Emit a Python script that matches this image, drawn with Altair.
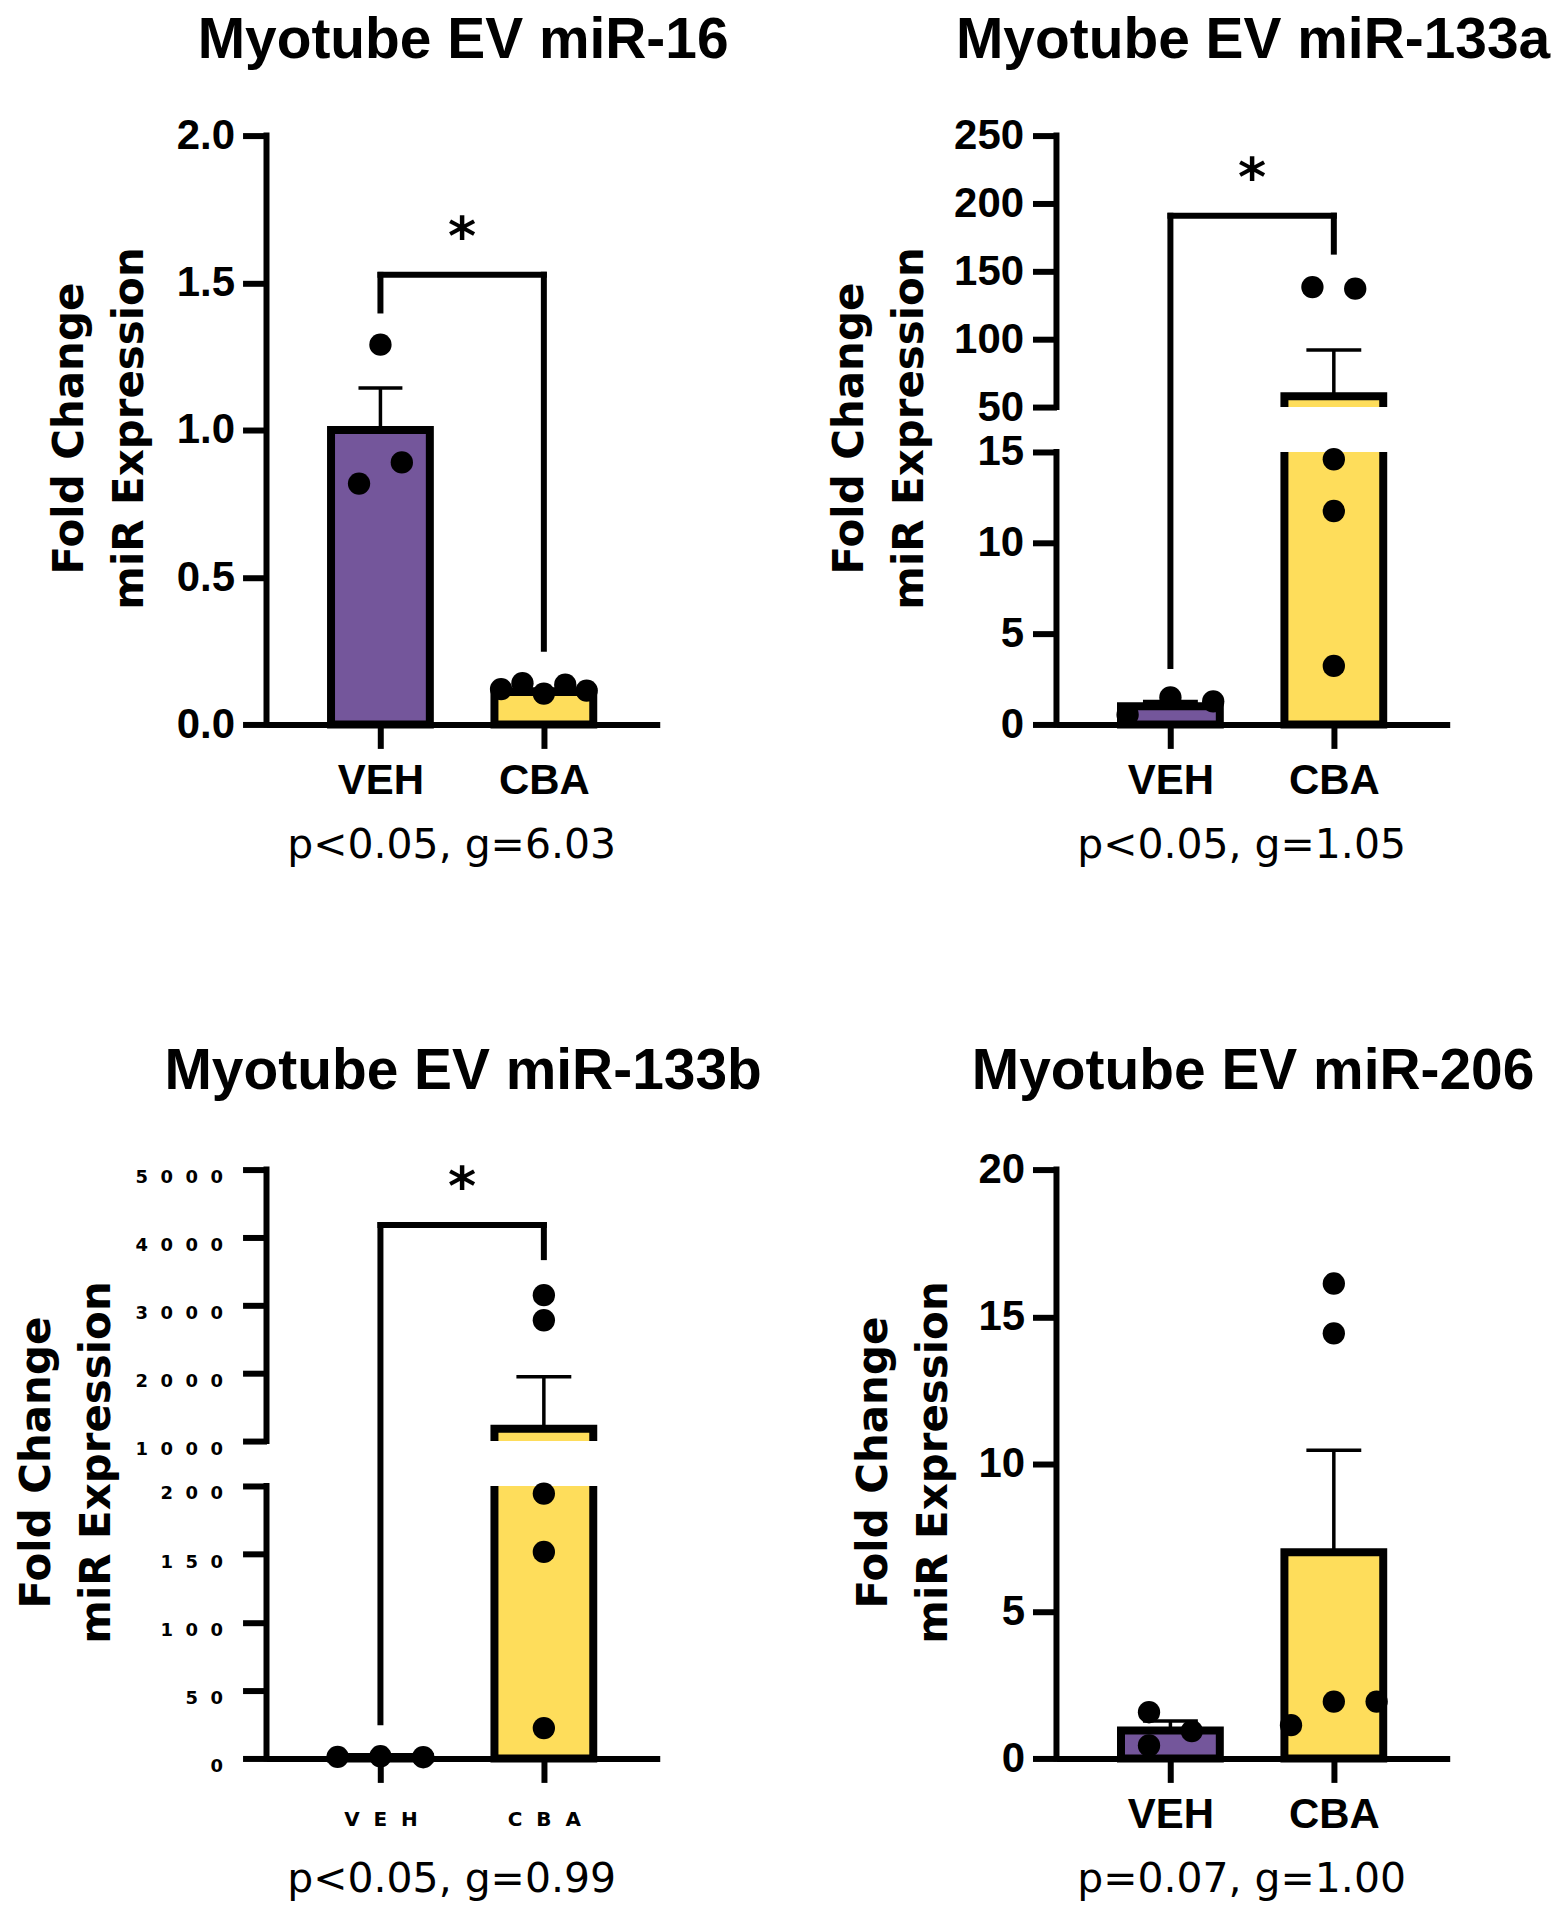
import altair as alt
import pandas as pd

# ---------------- data ----------------
GROUPS = ["VEH", "CBA"]

m16_title = "Myotube EV miR-16"
m16_mean = [1.0, 0.11]
m16_sem = [0.143, 0.01]
m16_veh = [1.29, 0.818, 0.89]
m16_cba = [0.12, 0.14, 0.105, 0.135, 0.115]
m16_bracket = [1.527, 1.406, 0.257]      # bar top, left leg end, right leg end
m16_ticks = [0, 0.5, 1.0, 1.5, 2.0]
m16_stats = "p<0.05, g=6.03"

m133a_title = "Myotube EV miR-133a"
m133a_mean = [1.0, 58.0]
m133a_sem = [0.27, 34.0]
m133a_veh = [0.54, 1.49, 1.27]
m133a_cba = [138.4, 137.2, 14.6, 11.75, 3.22]
m133a_bracket = [191.0, 3.22, 164.5]
m133a_ticks = [0, 5, 10, 15, 50, 100, 150, 200, 250]
m133a_stats = "p<0.05, g=1.05"

m133b_title = "Myotube EV miR-133b"
m133b_mean = [1.0, 1180.0]
m133b_sem = [0.5, 766.0]
m133b_veh = [1.2, 1.6, 0.9]
m133b_cba = [3150.0, 2780.0, 194.4, 151.6, 22.3]
m133b_bracket = [4182.0, 26.5, 3710.0]
m133b_ticks = [0, 50, 100, 150, 200, 1000, 2000, 3000, 4000, 5000]
m133b_stats = "p<0.05, g=0.99"

m206_title = "Myotube EV miR-206"
m206_mean = [0.95, 7.0]
m206_sem = [0.32, 3.47]
m206_veh = [1.57, 0.44, 0.93]
m206_cba = [16.13, 14.44, 1.13, 1.93, 1.93]
m206_ticks = [0, 5, 10, 15, 20]
m206_stats = "p=0.07, g=1.00"

# ---------------- layout / style ----------------
PURPLE = "#74569B"
YELLOW = "#FEDD5B"
W, H = 394, 590
STEP = 168.0                       # px between group centres
X_DOMAIN = [1 / 3, 1 / 3 + W / STEP]
SLOT = 22.0 / STEP                 # jitter column width (x units)
NB2 = "\u00a0\u00a0"               # letter spacing used in the miR-133b panel

# broken-axis segments: (value0, value1, px0, px1) measured from plot bottom
SEG_16 = [(0, 2, 0, H)]
SEG_133A = [(0, 15, 0, 273), (50, 250, 318, H)]
SEG_133B = [(0, 200, 0, 273), (1000, 5000, 318, H)]
SEG_206 = [(0, 20, 0, H)]


def to_px(v, segs):
    for i, (v0, v1, p0, p1) in enumerate(segs):
        if v <= v1 or i == len(segs) - 1:
            if v < v0 and i > 0:
                pv0, pv1, pp0, pp1 = segs[i - 1]
                return pp1 + (v - pv1) * (p0 - pp1) / (v0 - pv1)
            return p0 + (v - v0) * (p1 - p0) / (v1 - v0)


def panel(title, mean, sem, veh, cba, ticks, stats, segs, bracket, slots,
          fmt, lab_font, lab_size, lab_pad, lab_off, xlab_font, xlab_size, xlab_pad,
          xlabels, cap_w, title_x, title_off):
    px = lambda v: to_px(v, segs)
    xs = alt.Scale(domain=X_DOMAIN, nice=False, zero=False)
    ys = alt.Scale(domain=[0, H], nice=False, zero=True)

    tick_px = [px(t) for t in ticks]
    expr = "''"
    for p, t in reversed(list(zip(tick_px, ticks))):
        expr = f"abs(datum.value - {p:.3f}) < 0.5 ? '{fmt(t)}' : ({expr})"
    xexpr = f"datum.value == 1 ? '{xlabels[0]}' : '{xlabels[1]}'"

    yaxis = alt.Axis(
        values=tick_px, labelExpr=expr, title=["Fold Change", "miR Expression"],
        domain=False, grid=False, ticks=True, tickSize=24, tickWidth=6,
        tickColor="black", labelFont=lab_font, labelFontSize=lab_size,
        labelFontWeight="bold", labelColor="black", labelPadding=lab_pad,
        labelOffset=lab_off, labelOverlap=False, labelFlush=False,
        titleFont="DejaVu Sans", titleFontSize=42, titleFontWeight="bold",
        titleColor="black", titleX=title_x, titleY=293,
        titleBaseline="alphabetic", titleLineHeight=60,
    )
    xaxis = alt.Axis(
        values=[1, 2], labelExpr=xexpr, title=stats, domain=True,
        domainWidth=6, domainColor="black", grid=False, tickSize=24,
        tickWidth=6, tickColor="black", labelFont=xlab_font,
        labelFontSize=xlab_size, labelFontWeight="bold", labelColor="black",
        labelPadding=xlab_pad, labelFlush=False, labelOverlap=False,
        titleFont="DejaVu Sans", titleFontWeight="normal", titleFontSize=41,
        titleColor="black", titleX=185, titleY=133, titleBaseline="alphabetic",
    )
    X = lambda f: alt.X(f, scale=xs, axis=xaxis)
    Y = lambda f: alt.Y(f, scale=ys, axis=yaxis)

    bar_df = pd.DataFrame({
        "g": [1, 2], "name": GROUPS,
        "top": [px(m) for m in mean],
        "err": [px(m + s) for m, s in zip(mean, sem)],
    })
    pts = []
    for gi, vals in enumerate([veh, cba]):
        for v, s in zip(vals, slots[gi]):
            pts.append({"g": gi + 1 + s * SLOT, "top": px(v)})
    pts_df = pd.DataFrame(pts)

    layers = []
    layers.append(alt.Chart(bar_df).mark_bar(
        size=99, stroke="black", strokeWidth=8, orient="vertical").encode(
        x=X("g:Q"), y=Y("top:Q"),
        fill=alt.Fill("name:N", scale=alt.Scale(domain=GROUPS, range=[PURPLE, YELLOW]),
                      legend=None),
    ))
    if len(segs) > 1:
        gap_df = pd.DataFrame({"g": [2], "top": [segs[0][3]], "hi": [segs[1][2]]})
        layers.append(alt.Chart(gap_df).mark_bar(
            size=112, color="white", orient="vertical").encode(
            x=X("g:Q"), y=Y("top:Q"), y2="hi:Q"))
    layers.append(alt.Chart(bar_df).mark_rule(strokeWidth=3.5, color="black").encode(
        x=X("g:Q"), y=Y("top:Q"), y2="err:Q"))
    layers.append(alt.Chart(bar_df).mark_tick(
        orient="horizontal", size=cap_w, thickness=3.5, color="black", opacity=1).encode(
        x=X("g:Q"), y=Y("err:Q")))
    layers.append(alt.Chart(pts_df).mark_circle(size=500, color="black", opacity=1).encode(
        x=X("g:Q"), y=Y("top:Q")))
    if bracket is not None:
        top, lend, rend = [px(b) for b in bracket]
        br_df = pd.DataFrame({
            "g": [1, 1, 2], "g2": [2, 1, 2],
            "top": [top, top, top], "top2": [top, lend, rend],
        })
        layers.append(alt.Chart(br_df).mark_rule(
            strokeWidth=6, strokeCap="square", color="black").encode(
            x=X("g:Q"), x2="g2:Q", y=Y("top:Q"), y2="top2:Q"))
        star_df = pd.DataFrame({"g": [1.5], "top": [top], "t": ["*"]})
        layers.append(alt.Chart(star_df).mark_text(
            font="DejaVu Sans", fontSize=54, fontWeight="bold", color="black",
            baseline="middle", dy=-36).encode(
            x=X("g:Q"), y=Y("top:Q"), text="t:N"))
    ax_df = pd.DataFrame({"top": [s[2] for s in segs], "hi": [s[3] for s in segs]})
    layers.append(alt.Chart(ax_df).mark_rule(
        strokeWidth=6, strokeCap="square", color="black").encode(
        x=alt.value(0), y=Y("top:Q"), y2="hi:Q"))

    return alt.layer(*layers).properties(
        width=W, height=H,
        title=alt.TitleParams(text=title, font="Liberation Sans", fontSize=57,
                              fontWeight="bold", anchor="middle", frame="group",
                              baseline="alphabetic", offset=title_off, color="black"),
    )


f1 = lambda t: f"{t:.1f}"
fint = lambda t: f"{int(t)}"
fspaced = lambda t: NB2.join(str(int(t)))
LIB = "Liberation Sans"
DJV = "DejaVu Sans"

p1 = panel(m16_title, m16_mean, m16_sem, m16_veh, m16_cba, m16_ticks, m16_stats,
           SEG_16, m16_bracket, ([0, -1, 1], [-2, -1, 0, 1, 2]),
           f1, LIB, 42, 8, 0, LIB, 42, 12, GROUPS, 44, -184, 0)
p2 = panel(m133a_title, m133a_mean, m133a_sem, m133a_veh, m133a_cba, m133a_ticks,
           m133a_stats, SEG_133A, m133a_bracket, ([-2, 0, 2], [-1, 1, 0, 0, 0]),
           fint, LIB, 42, 9, 0, LIB, 42, 12, GROUPS, 55, -194, 0)
p3 = panel(m133b_title, m133b_mean, m133b_sem, m133b_veh, m133b_cba, m133b_ticks,
           m133b_stats, SEG_133B, m133b_bracket, ([-2, 0, 2], [0, 0, 0, 0, 0]),
           fspaced, DJV, 18, 20, 8, DJV, 20, 27, [NB2.join(g) for g in GROUPS], 55, -217, 16.5)
p4 = panel(m206_title, m206_mean, m206_sem, m206_veh, m206_cba, m206_ticks,
           m206_stats, SEG_206, None, ([-1, -1, 1], [0, 0, -2, 0, 2]),
           fint, LIB, 42, 8, 0, LIB, 42, 12, GROUPS, 55, -170, 2.5)

chart = alt.concat(p1, p2, p3, p4, columns=2,
                   spacing={"row": 446, "column": 397.5}, bounds="flush").properties(
    padding={"left": 8, "top": 2, "right": 5, "bottom": 5},
    background="white",
).configure_view(stroke=None)

chart.save("out.html", embed_options={"renderer": "svg", "actions": False})
